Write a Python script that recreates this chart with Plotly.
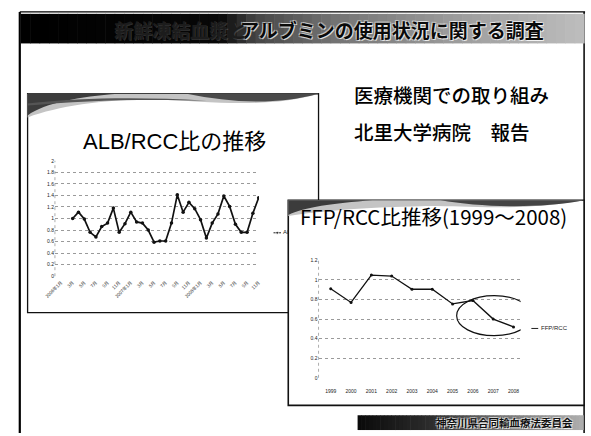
import plotly.graph_objects as go

W, H = 591, 436


def px_x(p):
    return p / W


def px_y(p):
    return 1 - p / H


# ---- data -------------------------------------------------------------
# ALB/RCC ratio, monthly (first three months have no value)
months = [
    "2005年12月", "2006年1月", "2006年2月", "2006年3月", "2006年4月", "2006年5月",
    "2006年6月", "2006年7月", "2006年8月", "2006年9月", "2006年10月", "2006年11月",
    "2006年12月", "2007年1月", "2007年2月", "2007年3月", "2007年4月", "2007年5月",
    "2007年6月", "2007年7月", "2007年8月", "2007年9月", "2007年10月", "2007年11月",
    "2007年12月", "2008年1月", "2008年2月", "2008年3月", "2008年4月", "2008年5月",
    "2008年6月", "2008年7月", "2008年8月", "2008年9月", "2008年10月", "2008年11月",
]
alb_rcc = [
    None, None, None,
    1.00, 1.11, 0.99, 0.76, 0.68, 0.86, 0.92, 1.18, 0.76, 0.91, 1.11,
    0.94, 0.92, 0.80, 0.59, 0.61, 0.61, 0.92, 1.41, 1.11, 1.28, 1.17,
    0.98, 0.66, 0.92, 1.08, 1.39, 1.21, 0.90, 0.76, 0.76, 1.09, 1.36,
]

# FFP/RCC ratio, yearly
years = [1999, 2000, 2001, 2002, 2003, 2004, 2005, 2006, 2007, 2008]
ffp_rcc = [0.91, 0.77, 1.05, 1.04, 0.905, 0.905, 0.755, 0.79, 0.60, 0.52]

header_dark = "新鮮凍結血漿と"
header_light = "アルブミンの使用状況に関する調査"
footer_text = "神奈川県合同輸血療法委員会"
subtitle_1 = "医療機関での取り組み"
subtitle_2 = "北里大学病院　報告"
alb_title = "ALB/RCC比の推移"
ffp_title = "FFP/RCC比推移(1999～2008)"

# ---- figure -----------------------------------------------------------
JP = "Noto Sans CJK JP"
SANS = "Liberation Sans, Noto Sans CJK JP"

fig = go.Figure()

month_ticks = list(range(1, len(months), 2))
month_text = [
    months[i] if months[i].endswith("年1月") else months[i].split("年")[1]
    for i in month_ticks
]

fig.add_trace(go.Scatter(
    x=list(range(len(months))), y=alb_rcc, mode="lines+markers",
    line=dict(color="#111", width=1.7), marker=dict(color="#111", size=3.5),
    connectgaps=False, xaxis="x", yaxis="y", showlegend=False,
))

fig.add_trace(go.Scatter(
    x=years, y=ffp_rcc, mode="lines+markers",
    line=dict(color="#111", width=1.3), marker=dict(color="#111", size=3),
    xaxis="x2", yaxis="y2", showlegend=False,
))

# legend sample of the ALB/RCC chart, clipped by its own small axis box
fig.add_trace(go.Scatter(
    x=[0.45, 0.59, 0.73], y=[0.5, 0.5, 0.5], mode="lines",
    line=dict(color="#222", width=1), xaxis="x3", yaxis="y3",
    showlegend=False, cliponaxis=True,
))
fig.add_trace(go.Scatter(
    x=[0.59, 0.76], y=[0.5, 0.5], mode="markers+text",
    marker=dict(color="#222", size=[3, 0.1]), text=["", "ALB/RCC"],
    textposition="middle right", textfont=dict(size=6, color="#222", family=SANS),
    xaxis="x3", yaxis="y3", showlegend=False, cliponaxis=True,
))

grid = dict(showgrid=True, gridcolor="#9a9a9a", griddash="dot", gridwidth=0.8,
            zeroline=False, showline=False)

layout = dict(
    width=W, height=H, margin=dict(l=0, r=0, t=0, b=0),
    paper_bgcolor="white", plot_bgcolor="rgba(0,0,0,0)",
    xaxis=dict(domain=[px_x(45), px_x(254)], range=[-0.05, 35.05],
               tickvals=month_ticks, ticktext=month_text, tickangle=-45,
               tickfont=dict(size=4.5, color="#333", family=JP),
               showgrid=False, zeroline=False, showline=False,
               ticklabelstandoff=2),
    yaxis=dict(domain=[px_y(277), px_y(160)], range=[0, 2], dtick=0.2,
               tickfont=dict(size=5, color="#222", family=SANS), **grid),
    xaxis2=dict(domain=[px_x(315), px_x(522)], range=[1998.4, 2008.35],
                tickvals=years, ticktext=[str(y) for y in years],
                tickfont=dict(size=5, color="#222", family=SANS),
                showgrid=False, zeroline=False, showline=False,
                ticklabelstandoff=9, anchor="y2"),
    yaxis2=dict(domain=[px_y(380), px_y(261)], range=[0, 1.2], dtick=0.2,
                tickfont=dict(size=5, color="#222", family=SANS),
                anchor="x2", **grid),
    xaxis3=dict(domain=[px_x(262), px_x(284)], range=[0.2, 1], visible=False,
                anchor="y3"),
    yaxis3=dict(domain=[px_y(239), px_y(227)], range=[0, 1], visible=False,
                anchor="x3"),
)
fig.update_layout(**layout)

shapes = []


def rect(x0, y0, x1, y1, fill, line_color=None, line_width=0, layer="below"):
    shapes.append(dict(
        type="rect", xref="paper", yref="paper",
        x0=px_x(x0), x1=px_x(x1), y0=px_y(y1), y1=px_y(y0),
        fillcolor=fill, line=dict(color=line_color or fill, width=line_width),
        layer=layer,
    ))


def path(segs, fill, layer="below"):
    parts = []
    for cmd, pts in segs:
        coords = " ".join(f"{px_x(x):.5f},{px_y(y):.5f}" for x, y in pts)
        parts.append(f"{cmd}{coords}")
    shapes.append(dict(type="path", xref="paper", yref="paper",
                       path=" ".join(parts) + " Z", fillcolor=fill,
                       line=dict(width=0), layer=layer))


def line(x0, y0, x1, y1, color="#000", width=1, dash="solid", layer="below"):
    shapes.append(dict(type="line", xref="paper", yref="paper",
                       x0=px_x(x0), x1=px_x(x1), y0=px_y(y0), y1=px_y(y1),
                       line=dict(color=color, width=width, dash=dash),
                       layer=layer))


def gradient_band(x0, x1, y0, y1, stops, steps=60):
    # stops: list of (pixel x, grey level)
    w = (x1 - x0) / steps
    for i in range(steps):
        xm = x0 + (i + 0.5) * w
        for (a, ga), (b, gb) in zip(stops[:-1], stops[1:]):
            if a <= xm <= b:
                g = int(ga + (gb - ga) * (xm - a) / (b - a))
                break
        else:
            g = stops[-1][1]
        rect(x0 + i * w, y0, x0 + (i + 1) * w + 0.6, y1, f"rgb({g},{g},{g})")


# slide frame
line(9, 9, 9, 436, width=2.2)
line(9, 9, 588, 9, width=1.2)
line(587, 9, 587, 436, width=1.5)

# header band
gradient_band(10, 587, 11, 41, [(10, 0), (215, 8), (250, 70), (330, 115),
                                (450, 155), (587, 190)])

# footer band
gradient_band(355, 586, 418, 433, [(355, 10), (430, 45), (500, 115), (586, 175)])

# left panel
rect(17, 92, 315, 314, "white", "#111", 1.3)
path([("M", [(17, 92)]), ("L", [(315, 92), (315, 104)]),
      ("C", [(260, 108), (200, 99), (150, 98)]),
      ("C", [(100, 97), (50, 104), (17, 116)])], "#c4c4c4")
path([("M", [(17, 92)]), ("L", [(110, 92)]),
      ("C", [(70, 95), (35, 101), (17, 114)])], "#3c3c3c")
path([("M", [(180, 92)]), ("L", [(315, 92), (315, 101)]),
      ("C", [(270, 104), (225, 101), (180, 92)])], "#4a4a4a")
path([("M", [(17, 102)]), ("C", [(70, 96), (130, 95), (200, 99)]),
      ("C", [(130, 97), (70, 99), (17, 104)])], "#555")
# left chart value axis
shapes.append(dict(type="line", xref="x domain", yref="y domain",
                   x0=0, x1=0, y0=0, y1=1,
                   line=dict(color="#999", width=0.8, dash="dot"), layer="below"))

# right panel
rect(284, 200, 587, 408, "white", "#111", 1.6)
path([("M", [(284, 200)]), ("L", [(587, 200), (587, 208)]),
      ("C", [(520, 212), (460, 205), (420, 206)]),
      ("C", [(370, 207), (320, 210), (284, 216)])], "#c4c4c4")
path([("M", [(284, 200)]), ("L", [(370, 200)]),
      ("C", [(330, 203), (300, 207), (284, 215)])], "#3c3c3c")
path([("M", [(440, 200)]), ("L", [(587, 200), (587, 207)]),
      ("C", [(540, 209), (480, 207), (440, 200)])], "#444")
shapes.append(dict(type="line", xref="x2 domain", yref="y2 domain",
                   x0=0, x1=0, y0=0, y1=1,
                   line=dict(color="#999", width=0.8, dash="dot"), layer="below"))

# highlight ellipse around the last years
shapes.append(dict(type="circle", xref="x2", yref="y2",
                   x0=2005.2, x1=2008.9, y0=0.43, y1=0.84,
                   line=dict(color="#111", width=1.2), layer="above"))
# FFP/RCC legend sample
line(533, 330, 540, 330, color="#222", width=1, layer="above")

fig.update_layout(shapes=shapes)

halo = ("1px 1px 0 rgba(255,255,255,0.75), -1px -1px 0 rgba(255,255,255,0.5), "
        "1px -1px 0 rgba(255,255,255,0.4), -1px 1px 0 rgba(255,255,255,0.4)")
faint = "1px 1px 0 rgba(255,255,255,0.18)"

light_w = 19 * len(header_light)

annotations = [
    dict(text=f"<b>{header_light}</b>", x=px_x(548), y=px_y(27), xanchor="right",
         yanchor="middle", font=dict(size=19, color="#0a0a0a", family=JP, shadow=halo)),
    dict(text=f"<b>{header_dark}</b>", x=px_x(548 - light_w), y=px_y(27),
         xanchor="right", yanchor="middle",
         font=dict(size=19, color="#1c1c1c", family=JP, shadow=faint)),
    dict(text=f"<b>{footer_text}</b>", x=px_x(578), y=px_y(425.5), xanchor="right",
         yanchor="middle", font=dict(size=10.5, color="#111", family=JP, shadow=halo)),
    dict(text=subtitle_1, x=px_x(349), y=px_y(93), xanchor="left", yanchor="middle",
         font=dict(size=19.5, color="#000", family=JP, weight=500)),
    dict(text=subtitle_2, x=px_x(349), y=px_y(130), xanchor="left", yanchor="middle",
         font=dict(size=19.5, color="#000", family=JP, weight=500)),
    dict(text=alb_title, x=px_x(167), y=px_y(140), xanchor="center", yanchor="middle",
         font=dict(size=22, color="#000", family=SANS)),
    dict(text=ffp_title, x=px_x(433), y=px_y(216), xanchor="center", yanchor="middle",
         font=dict(size=20.5, color="#000", family=JP)),
    dict(text="FFP/RCC", x=px_x(541), y=px_y(330), xanchor="left", yanchor="middle",
         font=dict(size=6, color="#222", family=SANS)),
]
for a in annotations:
    a.update(xref="paper", yref="paper", showarrow=False)
fig.update_layout(annotations=annotations)

fig.write_html("out.html")
